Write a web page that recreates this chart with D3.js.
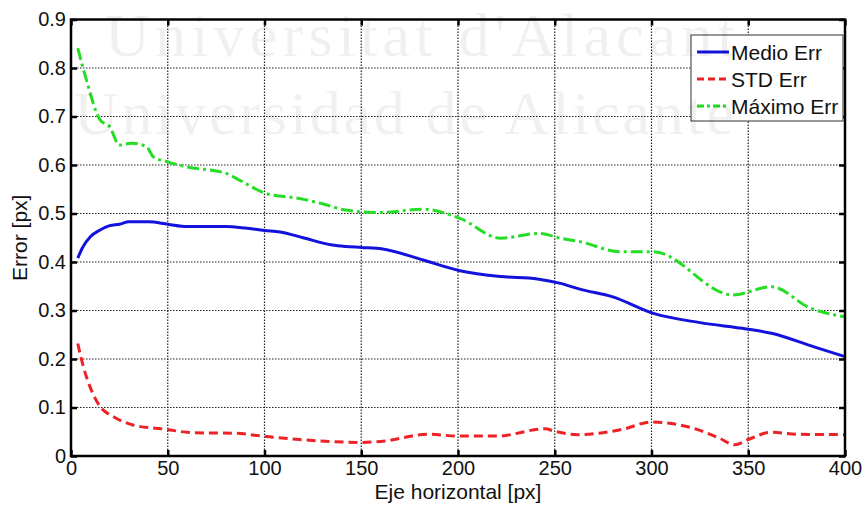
<!DOCTYPE html>
<html lang="es">

<head>
    <meta charset="UTF-8">
    <title>Error vs eje horizontal</title>
    <script src="https://d3js.org/d3.v7.min.js"></script>
    <style>
        body {
            margin: 0;
            background: #fff;
            font-family: Arial, "Liberation Sans", sans-serif;
        }
    </style>
</head>

<body>
    <div id="chart"></div>

    <script>
        // values
        const medioX = [3.5, 6, 10, 15, 20, 25, 30, 40, 50, 60, 80, 90, 100, 108, 120, 135, 142, 150, 161, 182, 201, 222, 241, 253, 263, 280, 301, 325, 349, 362, 384, 400];
        const medioY = [0.408, 0.43, 0.452, 0.466, 0.475, 0.478, 0.483, 0.483, 0.478, 0.473, 0.473, 0.47, 0.465, 0.462, 0.45, 0.435, 0.432, 0.43, 0.427, 0.404, 0.382, 0.37, 0.365, 0.356, 0.344, 0.328, 0.294, 0.275, 0.262, 0.253, 0.225, 0.205];

        const stdX = [3.5, 6.4, 9.8, 15, 22, 32, 49, 63, 84, 101, 118, 150, 160, 185, 200, 220, 245, 250, 262, 285, 300, 320, 335, 343, 350, 362, 375, 400];
        const stdY = [0.232, 0.184, 0.143, 0.102, 0.081, 0.064, 0.055, 0.048, 0.047, 0.04, 0.034, 0.028, 0.03, 0.045, 0.041, 0.041, 0.056, 0.051, 0.044, 0.055, 0.07, 0.059, 0.037, 0.023, 0.034, 0.049, 0.045, 0.044];

        const maxX = [3.5, 8, 15, 20, 25, 31, 39, 42.5, 49.5, 60, 80, 87, 101, 118, 130, 142, 160, 182, 201, 222, 242, 253, 263, 284, 301, 342, 362, 382, 400];
        const maxY = [0.841, 0.775, 0.693, 0.679, 0.641, 0.645, 0.638, 0.617, 0.607, 0.596, 0.583, 0.569, 0.541, 0.531, 0.52, 0.507, 0.502, 0.509, 0.49, 0.449, 0.459, 0.449, 0.442, 0.421, 0.421, 0.332, 0.349, 0.305, 0.287];

        const xTicks = [0, 50, 100, 150, 200, 250, 300, 350, 400];
        const yTicks = [0, 0.1, 0.2, 0.3, 0.4, 0.5, 0.6, 0.7, 0.8, 0.9];

        const seriesNames = ['Medio Err', 'STD Err', 'Máximo Err'];
        const seriesColors = ['#1212dc', '#ec2226', '#25dd25'];
        const seriesDash = [null, '9,5', '12,4,3,4'];

        const width = 867;
        const height = 505;
        const margin = { top: 19.5, right: 22, bottom: 49, left: 71 };

        const svg = d3.select('#chart')
            .append('svg')
            .attr('width', width)
            .attr('height', height);

        const x = d3.scaleLinear()
            .domain([0, 400])
            .range([margin.left, width - margin.right]);

        const y = d3.scaleLinear()
            .domain([0, 0.9])
            .range([height - margin.bottom, margin.top]);

        // grid
        svg.append('g')
            .attr('stroke', '#222')
            .attr('stroke-width', 1.2)
            .attr('stroke-dasharray', '1.5,1.5')
            .call(g => g.selectAll('.gx')
                .data(xTicks.slice(1, -1))
                .join('line')
                .attr('x1', d => x(d)).attr('x2', d => x(d))
                .attr('y1', y(0)).attr('y2', y(0.9)))
            .call(g => g.selectAll('.gy')
                .data(yTicks.slice(1, -1))
                .join('line')
                .attr('class', 'gy')
                .attr('x1', x(0)).attr('x2', x(400))
                .attr('y1', d => y(d)).attr('y2', d => y(d)));

        // lines
        const line = d3.line()
            .x(d => x(d[0]))
            .y(d => y(d[1]))
            .curve(d3.curveMonotoneX);

        const series = [
            d3.zip(medioX, medioY),
            d3.zip(stdX, stdY),
            d3.zip(maxX, maxY)
        ];

        svg.append('g')
            .attr('fill', 'none')
            .selectAll('path')
            .data(series)
            .join('path')
            .attr('d', line)
            .attr('stroke', (d, i) => seriesColors[i])
            .attr('stroke-width', 3)
            .attr('stroke-dasharray', (d, i) => seriesDash[i]);

        // axes: ticks inward, on all four sides
        const tickStyle = g => {
            g.select('.domain').remove();
            g.selectAll('.tick line').attr('stroke', '#000').attr('stroke-width', 2.5);
            g.selectAll('.tick text')
                .attr('fill', '#111')
                .style('font-size', '20px')
                .style('font-family', 'Arial, "Liberation Sans", sans-serif');
        };

        svg.append('g')
            .attr('transform', `translate(0,${y(0)})`)
            .call(d3.axisBottom(x).tickValues(xTicks).tickSize(-6).tickPadding(5).tickFormat(d3.format('d')))
            .call(tickStyle);

        svg.append('g')
            .attr('transform', `translate(0,${y(0.9)})`)
            .call(d3.axisTop(x).tickValues(xTicks).tickSize(-6).tickFormat(''))
            .call(tickStyle);

        svg.append('g')
            .attr('transform', `translate(${x(0)},0)`)
            .call(d3.axisLeft(y).tickValues(yTicks).tickSize(-6).tickPadding(5).tickFormat(d => d === 0 ? '0' : d3.format('.1f')(d)))
            .call(tickStyle);

        svg.append('g')
            .attr('transform', `translate(${x(400)},0)`)
            .call(d3.axisRight(y).tickValues(yTicks).tickSize(-6).tickFormat(''))
            .call(tickStyle);

        svg.append('rect')
            .attr('x', x(0))
            .attr('y', y(0.9))
            .attr('width', x(400) - x(0))
            .attr('height', y(0) - y(0.9))
            .attr('fill', 'none')
            .attr('stroke', '#000')
            .attr('stroke-width', 2.5);

        // axis titles
        svg.append('text')
            .attr('x', (x(0) + x(400)) / 2)
            .attr('y', 499)
            .attr('text-anchor', 'middle')
            .attr('fill', '#111')
            .style('font-size', '21px')
            .text('Eje horizontal [px]');

        svg.append('text')
            .attr('transform', `translate(27,${(y(0) + y(0.9)) / 2}) rotate(-90)`)
            .attr('text-anchor', 'middle')
            .attr('fill', '#111')
            .style('font-size', '21px')
            .text('Error [px]');

        // legend
        const legend = svg.append('g')
            .attr('transform', 'translate(691,35)');

        legend.append('rect')
            .attr('width', 152)
            .attr('height', 86)
            .attr('fill', '#fff')
            .attr('stroke', '#333')
            .attr('stroke-width', 1);

        const rows = legend.selectAll('g.row')
            .data(seriesNames)
            .join('g')
            .attr('class', 'row')
            .attr('transform', (d, i) => `translate(0,${17 + i * 27})`);

        rows.append('line')
            .attr('x1', 6).attr('x2', 38)
            .attr('stroke', (d, i) => seriesColors[i])
            .attr('stroke-width', 3)
            .attr('stroke-dasharray', (d, i) => i === 1 ? '7,4' : i === 2 ? '7,3,3,3' : null);

        rows.append('text')
            .attr('x', 40)
            .attr('dy', '0.36em')
            .attr('fill', '#111')
            .style('font-size', '21px')
            .text(d => d);

        // watermark
        svg.append('g')
            .attr('fill', '#000')
            .attr('fill-opacity', 0.06)
            .style('font-family', '"Liberation Serif", "DejaVu Serif", serif')
            .style('font-size', '62px')
            .call(g => g.append('text')
                .attr('x', 105).attr('y', 56)
                .attr('textLength', 630)
                .text("Universitat d'Alacant"))
            .call(g => g.append('text')
                .attr('x', 74).attr('y', 134)
                .attr('textLength', 660)
                .text('Universidad de Alicante'));
    </script>
</body>

</html>
